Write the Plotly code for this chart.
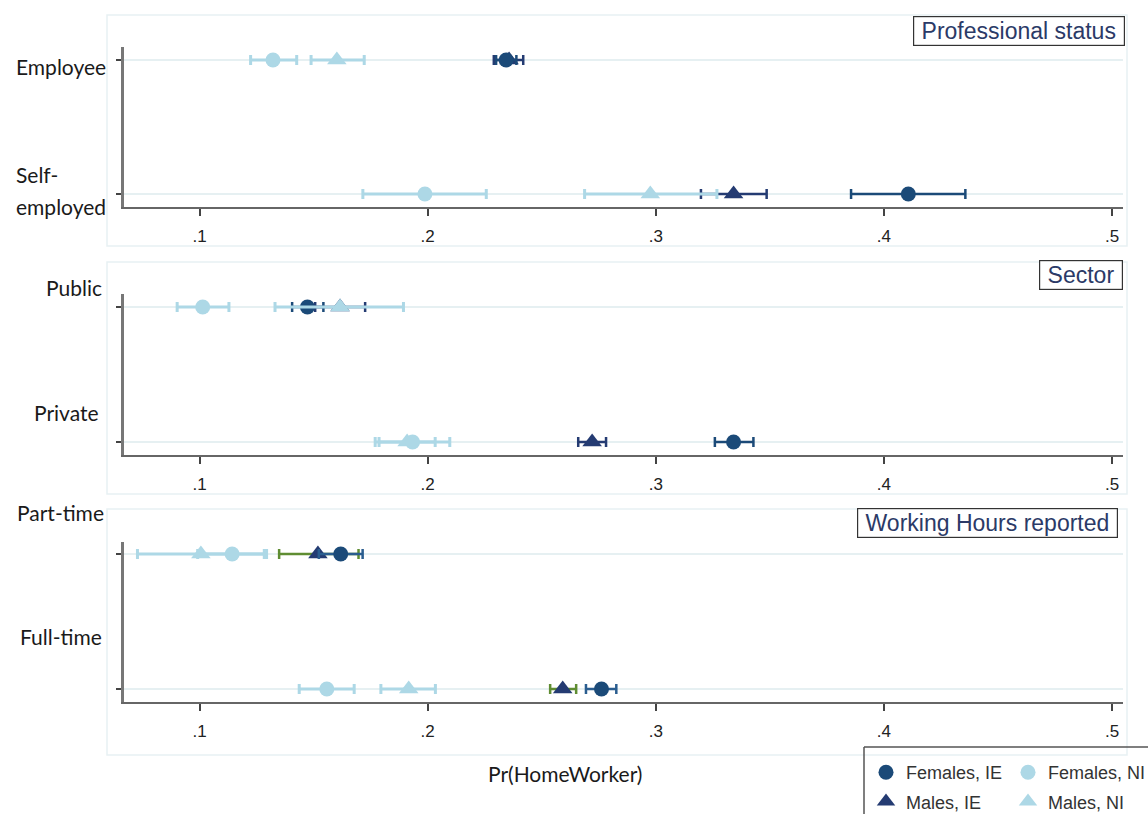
import plotly.graph_objects as go

W, H = 1148, 814

# ---------------- data ----------------
panel_titles = ["Professional status", "Sector", "Working Hours reported"]
row_labels = ["Employee", "Self-employed", "Public", "Private", "Part-time", "Full-time"]
row_panel = [0, 0, 1, 1, 2, 2]
row_pos = [0, 1, 0, 1, 0, 1]

x_ticks = [0.1, 0.2, 0.3, 0.4, 0.5]
x_ticktext = [".1", ".2", ".3", ".4", ".5"]

# Females, IE
fie_est = [0.2344, 0.4107, 0.1473, 0.3341, 0.1619, 0.2762]
fie_lo = [0.2300, 0.3856, 0.1406, 0.3259, 0.1523, 0.2694]
fie_hi = [0.2389, 0.4357, 0.1543, 0.3428, 0.1715, 0.2827]
# Males, IE
mie_est = [0.2357, 0.3341, 0.1616, 0.2721, 0.1519, 0.2592]
mie_lo = [0.2290, 0.3198, 0.1507, 0.2660, 0.1349, 0.2537]
mie_hi = [0.2419, 0.3486, 0.1726, 0.2782, 0.1697, 0.2651]
# Females, NI
fni_est = [0.1322, 0.1988, 0.1014, 0.1934, 0.1143, 0.1558]
fni_lo = [0.1224, 0.1716, 0.0902, 0.1770, 0.0992, 0.1437]
fni_hi = [0.1426, 0.2257, 0.1129, 0.2097, 0.1294, 0.1678]
# Males, NI
mni_est = [0.1602, 0.2976, 0.1616, 0.1910, 0.1006, 0.1917]
mni_lo = [0.1489, 0.2688, 0.1331, 0.1787, 0.0728, 0.1795]
mni_hi = [0.1722, 0.3268, 0.1894, 0.2033, 0.1284, 0.2034]

# ---------------- styling ----------------
DARK_F = "#1b4a78"
DARK_M = "#243b72"
LIGHT = "#add8e6"
GREEN = "#5f8d32"

series = [
    ("Males, IE", mie_est, mie_lo, mie_hi, "triangle-up", DARK_M, [DARK_M, DARK_M, GREEN], "legend", 2, 17),
    ("Females, IE", fie_est, fie_lo, fie_hi, "circle", DARK_F, [DARK_F, DARK_F, "#2a5d8f"], "legend", 1, 15),
    ("Males, NI", mni_est, mni_lo, mni_hi, "triangle-up", LIGHT, [LIGHT] * 3, "legend2", 2, 17),
    ("Females, NI", fni_est, fni_lo, fni_hi, "circle", LIGHT, [LIGHT] * 3, "legend2", 1, 15),
]


def px_x(p):
    return p / W


def px_y(p):
    return 1 - p / H


# panel geometry in pixels: (axis top, first cat, second cat, axis bottom)
panel_px = [(47, 60, 194, 207), (294, 307, 442, 455), (542, 554, 689, 702)]
x_dom = [px_x(124), px_x(1123)]
x_range = [0.0669, 0.5048]

fig = go.Figure()

for pi in range(3):
    idx = [i for i, p in enumerate(row_panel) if p == pi]
    xa = "x" if pi == 0 else f"x{pi+1}"
    ya = "y" if pi == 0 else f"y{pi+1}"
    for name, est, lo, hi, sym, col, cicols, leg, rank, size in series:
        xs = [est[i] for i in idx]
        ys = [row_pos[i] for i in idx]
        plus = [hi[i] - est[i] for i in idx]
        minus = [est[i] - lo[i] for i in idx]
        light = col == LIGHT
        fig.add_trace(go.Scatter(
            x=xs, y=ys, xaxis=xa, yaxis=ya, mode="markers", name=name,
            marker=dict(symbol=sym, size=size, color=col, line=dict(width=0)),
            error_x=dict(type="data", array=plus, arrayminus=minus, symmetric=False,
                         color=cicols[pi], thickness=3 if light else 2.5, width=5),
            showlegend=(pi == 0), legend=leg, legendrank=rank, legendgroup=name,
            hoverinfo="x+name",
        ))

layout_axes = {}
for pi, (top, c1, c2, bot) in enumerate(panel_px):
    unit = c2 - c1
    r_top = -(c1 - top) / unit
    r_bot = 1 + (bot - c2) / unit
    xk = "xaxis" if pi == 0 else f"xaxis{pi+1}"
    yk = "yaxis" if pi == 0 else f"yaxis{pi+1}"
    ya = "y" if pi == 0 else f"y{pi+1}"
    xa = "x" if pi == 0 else f"x{pi+1}"
    layout_axes[xk] = dict(
        domain=x_dom, range=x_range, anchor=ya,
        tickvals=x_ticks, ticktext=x_ticktext,
        ticks="outside", ticklen=7, tickwidth=1.5, tickcolor="#444",
        showline=True, linecolor="#666", linewidth=2,
        showgrid=False, zeroline=False, ticklabelstandoff=6,
        tickfont=dict(family="Liberation Sans, Arial, sans-serif", size=17, color="#222"),
        fixedrange=True,
    )
    layout_axes[yk] = dict(
        domain=[px_y(bot), px_y(top)], range=[r_bot, r_top], anchor=xa,
        tickvals=[0, 1], ticktext=["", ""],
        ticks="outside", ticklen=5, tickwidth=1.5, tickcolor="#444",
        showline=True, linecolor="#777", linewidth=2.5,
        showgrid=True, gridcolor="#e6f0f2", gridwidth=1.5, zeroline=False,
        fixedrange=True,
    )

fig.update_layout(**layout_axes)

# faint outer panel frames
shapes = []
for (y0, y1) in [(15, 246), (262, 494), (509, 755)]:
    shapes.append(dict(type="rect", xref="paper", yref="paper",
                       x0=px_x(107), x1=px_x(1127), y0=px_y(y1), y1=px_y(y0),
                       line=dict(color="#e8f1f3", width=1.5), layer="below"))
# legend box (clipped by the figure edge on the right and bottom)
shapes.append(dict(type="line", xref="paper", yref="paper",
                   x0=px_x(864), x1=1, y0=px_y(747), y1=px_y(747),
                   line=dict(color="#555", width=1.5)))
shapes.append(dict(type="line", xref="paper", yref="paper",
                   x0=px_x(864), x1=px_x(864), y0=0, y1=px_y(747),
                   line=dict(color="#555", width=1.5)))

annotations = []
NB = "\u00a0"
title_pos = [(1125, 16), (1123, 260), (1118, 508)]
for t, (rx, ty) in zip(panel_titles, title_pos):
    annotations.append(dict(
        text=NB + t + NB, xref="paper", yref="paper", x=px_x(rx), y=px_y(ty),
        xanchor="right", yanchor="top", showarrow=False,
        font=dict(family="Liberation Sans, Arial, sans-serif", size=23, color="#2b3a67"),
        bordercolor="#333", borderwidth=1.2, borderpad=1, bgcolor="white",
    ))

# category labels (placed like the reference, offset from the ticks)
cat_font = dict(family="Lato, Calibri, sans-serif", size=21, color="#1a1a1a")
label_spec = [
    ("Employee", 108, 67, "right"),
    ("Self-", 14, 175, "left"),
    ("employed", 108, 206, "right"),
    ("Public", 104, 287, "right"),
    ("Private", 101, 412, "right"),
    ("Part-time", 106, 512, "right"),
    ("Full-time", 104, 636, "right"),
]
for txt, xx, yy, anc in label_spec:
    annotations.append(dict(text=txt, xref="paper", yref="paper", x=px_x(xx), y=px_y(yy),
                            xanchor=anc, yanchor="middle", showarrow=False, font=cat_font))

annotations.append(dict(text="Pr(HomeWorker)", xref="paper", yref="paper",
                        x=px_x(565), y=px_y(773), xanchor="center", yanchor="middle",
                        showarrow=False, font=dict(family="Lato, Calibri, sans-serif", size=21, color="#1a1a1a")))

leg_font = dict(family="Liberation Sans Narrow, Liberation Sans, Arial, sans-serif", size=18, color="#333")
fig.update_layout(
    width=W, height=H, margin=dict(l=0, r=0, t=0, b=0, autoexpand=False),
    paper_bgcolor="white", plot_bgcolor="white",
    shapes=shapes, annotations=annotations,
    legend=dict(x=px_x(866), y=px_y(754), xanchor="left", yanchor="top",
                bgcolor="rgba(0,0,0,0)", borderwidth=0, font=leg_font,
                itemsizing="trace", tracegroupgap=3, itemclick=False, itemdoubleclick=False),
    legend2=dict(x=px_x(1008), y=px_y(754), xanchor="left", yanchor="top",
                 bgcolor="rgba(0,0,0,0)", borderwidth=0, font=leg_font,
                 itemsizing="trace", tracegroupgap=3, itemclick=False, itemdoubleclick=False),
    showlegend=True,
)

fig.write_html("out.html", config={"displayModeBar": False},
               post_script="document.body.style.margin='0';document.body.style.overflow='hidden';")
